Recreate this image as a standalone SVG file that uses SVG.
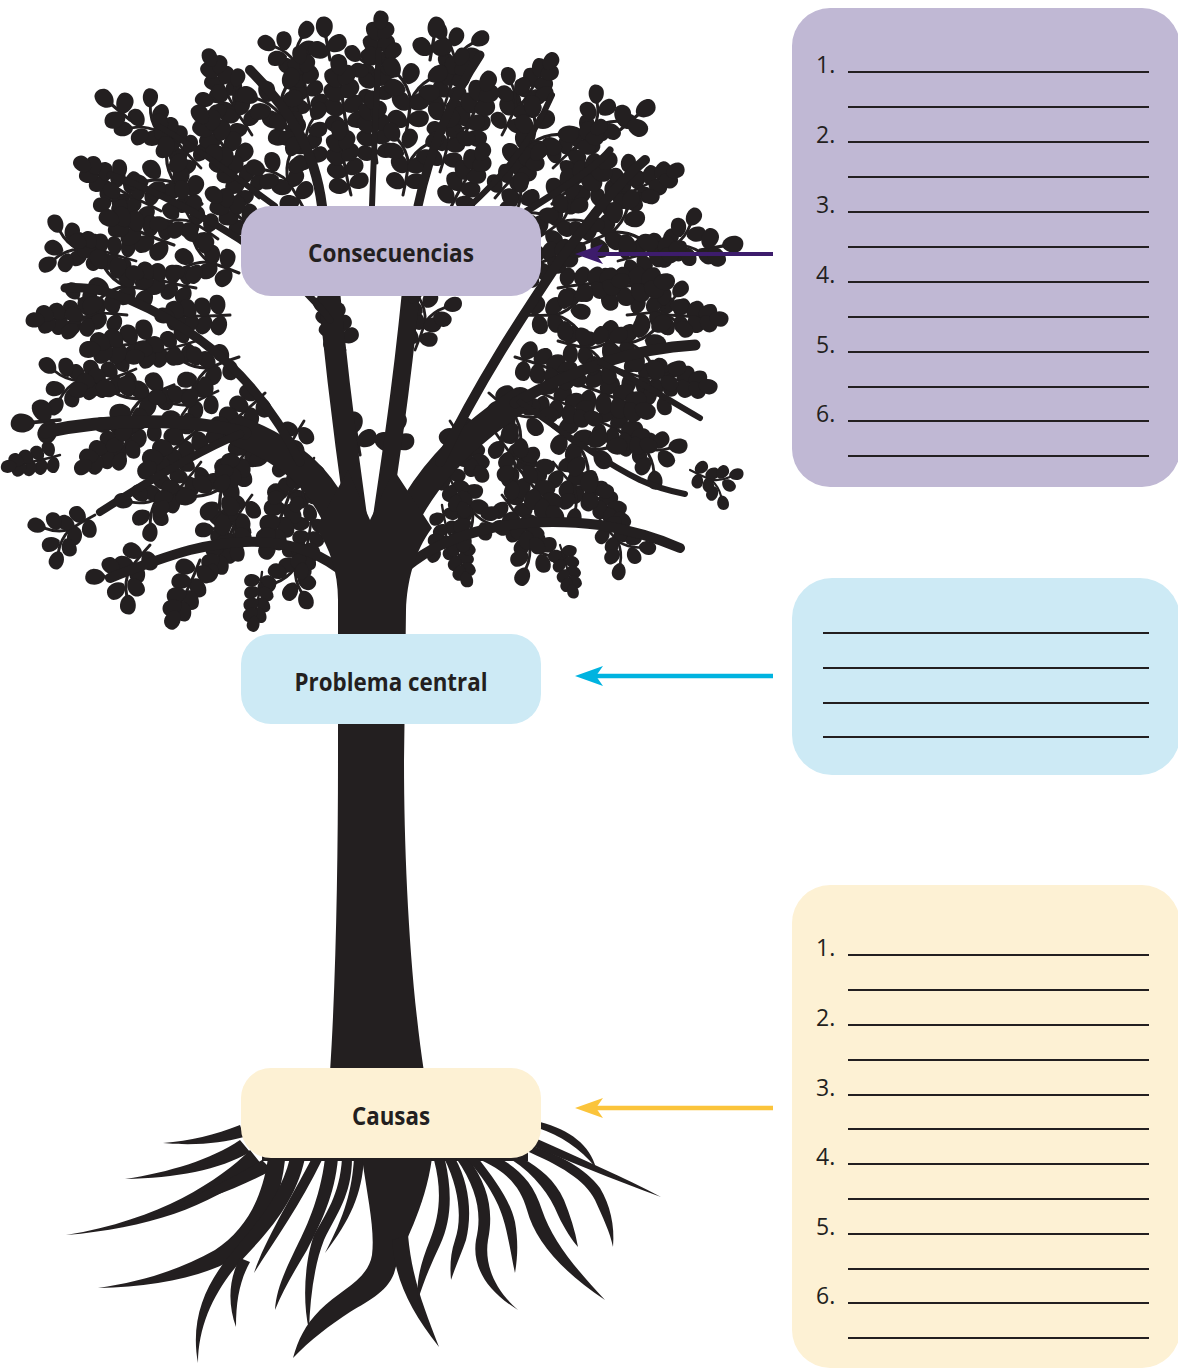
<svg xmlns="http://www.w3.org/2000/svg" xmlns:xlink="http://www.w3.org/1999/xlink" width="1178" height="1371" viewBox="0 0 1178 1371">
<style>
.ink{fill:#231f20}
.tw{fill:none;stroke:#231f20;stroke-width:4;stroke-linecap:round}
.br{fill:none;stroke:#231f20;stroke-linecap:round;stroke-linejoin:round}
.lbl{font-family:"Open Sans","Liberation Sans",sans-serif;font-weight:700;font-size:25px;fill:#231f20;text-anchor:middle}
.num{font-family:"Open Sans","Liberation Sans",sans-serif;font-size:23px;fill:#231f20}
.ln{stroke:#231f20;stroke-width:1.8}
.ar{fill:none}
</style>
<defs>
<path id="lf" d="M0,0 C1,-10 17,-14 25,-6 C30,0 25,11 16,11 C8,11 2,6 0,0Z"/>
<g id="cA" fill="#231f20">
<path class="tw" d="M0,0 Q40,-3 76,0"/>
<use href="#lf" transform="translate(10,-1) rotate(-72)"/>
<use href="#lf" transform="translate(12,1) rotate(70)"/>
<use href="#lf" transform="translate(27,-2) rotate(-55)"/>
<use href="#lf" transform="translate(29,-1) rotate(58)"/>
<use href="#lf" transform="translate(44,-2) rotate(-45)"/>
<use href="#lf" transform="translate(46,-1) rotate(45)"/>
<use href="#lf" transform="translate(60,-2) rotate(-32)"/>
<use href="#lf" transform="translate(62,-1) rotate(35)"/>
<use href="#lf" transform="translate(74,0) rotate(-4)"/>
</g>
<g id="cB" fill="#231f20">
<path class="tw" d="M0,0 Q22,1 42,0 M42,0 Q60,-5 72,-20 M42,0 Q60,5 72,20"/>
<use href="#lf" transform="translate(12,0) rotate(-70)"/>
<use href="#lf" transform="translate(16,0) rotate(68)"/>
<use href="#lf" transform="translate(31,-1) rotate(-50)"/>
<use href="#lf" transform="translate(33,1) rotate(48)"/>
<use href="#lf" transform="translate(54,-8) rotate(-85)"/>
<use href="#lf" transform="translate(54,8) rotate(85)"/>
<use href="#lf" transform="translate(62,-6) rotate(5)"/>
<use href="#lf" transform="translate(70,-19) rotate(-45)"/>
<use href="#lf" transform="translate(70,19) rotate(45)"/>
</g>
<g id="cC" fill="#231f20">
<path class="tw" d="M0,0 L30,0"/>
<use href="#lf" transform="translate(8,0) rotate(-62)"/>
<use href="#lf" transform="translate(12,0) rotate(60)"/>
<use href="#lf" transform="translate(28,0)"/>
</g>
<marker id="ahP" markerUnits="userSpaceOnUse" markerWidth="30" markerHeight="24" viewBox="0 -12 30 24" refX="7" refY="0" orient="auto"><path d="M0,-10 L28,0 L0,10 L7,0 Z" fill="#3d1c6c"/></marker>
<marker id="ahB" markerUnits="userSpaceOnUse" markerWidth="30" markerHeight="24" viewBox="0 -12 30 24" refX="7" refY="0" orient="auto"><path d="M0,-10 L28,0 L0,10 L7,0 Z" fill="#00b3e0"/></marker>
<marker id="ahY" markerUnits="userSpaceOnUse" markerWidth="30" markerHeight="24" viewBox="0 -12 30 24" refX="7" refY="0" orient="auto"><path d="M0,-10 L28,0 L0,10 L7,0 Z" fill="#fbc43b"/></marker>
</defs>
<rect width="1178" height="1371" fill="#ffffff"/>

<g id="tree">
<g id="canopy">
<use href="#cA" transform="translate(656,315) rotate(4) scale(.72)"/>
<use href="#cB" transform="translate(646,255) rotate(-19) scale(.72)"/>
<use href="#cA" transform="translate(619,199) rotate(-26) scale(.72)"/>
<use href="#cB" transform="translate(574,151) rotate(-49) scale(.72)"/>
<use href="#cA" transform="translate(516,114) rotate(-56) scale(.72)"/>
<use href="#cB" transform="translate(449,91) rotate(-79) scale(.72)"/>
<use href="#cA" transform="translate(377,83) rotate(-86) scale(.72)"/>
<use href="#cB" transform="translate(305,91) rotate(-109) scale(.72)"/>
<use href="#cA" transform="translate(238,114) rotate(-116) scale(.72)"/>
<use href="#cB" transform="translate(180,151) rotate(-139) scale(.72)"/>
<use href="#cA" transform="translate(135,199) rotate(-146) scale(.72)"/>
<use href="#cB" transform="translate(108,255) rotate(-169) scale(.72)"/>
<use href="#cA" transform="translate(98,315) rotate(176) scale(.72)"/>
<use href="#cB" transform="translate(108,375) rotate(169) scale(.72)"/>
<use href="#cA" transform="translate(135,431) rotate(146) scale(.72)"/>
<use href="#cB" transform="translate(180,479) rotate(139) scale(.72)"/>
<use href="#cA" transform="translate(238,516) rotate(116) scale(.72)"/>
<use href="#cB" transform="translate(305,539) rotate(109) scale(.72)"/>
<use href="#cA" transform="translate(449,530) rotate(71) scale(.6)"/>
<use href="#cB" transform="translate(516,516) rotate(64) scale(.72)"/>
<use href="#cA" transform="translate(574,479) rotate(41) scale(.72)"/>
<use href="#cB" transform="translate(619,431) rotate(34) scale(.72)"/>
<use href="#cA" transform="translate(646,375) rotate(11) scale(.72)"/>

<use href="#cB" transform="translate(627,315) rotate(-6) scale(.7)"/>
<use href="#cA" transform="translate(618,261) rotate(-12) scale(.7)"/>
<use href="#cB" transform="translate(593,211) rotate(-34) scale(.7)"/>
<use href="#cA" transform="translate(553,168) rotate(-41) scale(.7)"/>
<use href="#cB" transform="translate(502,135) rotate(-64) scale(.7)"/>
<use href="#cA" transform="translate(442,115) rotate(-71) scale(.7)"/>
<use href="#cB" transform="translate(377,108) rotate(-94) scale(.7)"/>
<use href="#cA" transform="translate(312,115) rotate(-101) scale(.7)"/>
<use href="#cB" transform="translate(252,135) rotate(-124) scale(.7)"/>
<use href="#cA" transform="translate(201,168) rotate(-131) scale(.7)"/>
<use href="#cB" transform="translate(161,211) rotate(-154) scale(.7)"/>
<use href="#cA" transform="translate(136,261) rotate(-161) scale(.7)"/>
<use href="#cB" transform="translate(127,315) rotate(184) scale(.7)"/>
<use href="#cA" transform="translate(136,369) rotate(161) scale(.7)"/>
<use href="#cB" transform="translate(161,419) rotate(154) scale(.7)"/>
<use href="#cA" transform="translate(201,462) rotate(131) scale(.7)"/>
<use href="#cB" transform="translate(252,495) rotate(124) scale(.7)"/>
<use href="#cA" transform="translate(312,515) rotate(101) scale(.65)"/>
<use href="#cB" transform="translate(442,505) rotate(79) scale(.6)"/>
<use href="#cA" transform="translate(502,495) rotate(56) scale(.7)"/>
<use href="#cB" transform="translate(553,462) rotate(49) scale(.7)"/>
<use href="#cA" transform="translate(593,419) rotate(26) scale(.7)"/>
<use href="#cB" transform="translate(618,369) rotate(19) scale(.7)"/>

<use href="#cB" transform="translate(159,291) rotate(-172) scale(.8)"/>
<use href="#cA" transform="translate(174,245) rotate(-157) scale(.8)"/>
<use href="#cB" transform="translate(202,204) rotate(-142) scale(.8)"/>
<use href="#cA" transform="translate(243,170) rotate(-127) scale(.8)"/>
<use href="#cB" transform="translate(293,146) rotate(-112) scale(.8)"/>
<use href="#cA" transform="translate(348,134) rotate(-97) scale(.8)"/>
<use href="#cB" transform="translate(406,134) rotate(-82) scale(.8)"/>
<use href="#cA" transform="translate(461,146) rotate(-67) scale(.8)"/>
<use href="#cB" transform="translate(511,170) rotate(-52) scale(.8)"/>
<use href="#cA" transform="translate(552,204) rotate(-37) scale(.8)"/>
<use href="#cB" transform="translate(580,245) rotate(-22) scale(.8)"/>
<use href="#cA" transform="translate(595,291) rotate(-7) scale(.8)"/>
<use href="#cB" transform="translate(595,339) rotate(7) scale(.8)"/>
<use href="#cA" transform="translate(580,385) rotate(22) scale(.8)"/>
<use href="#cB" transform="translate(552,426) rotate(37) scale(.8)"/>
<use href="#cA" transform="translate(511,460) rotate(52) scale(.8)"/>
<use href="#cB" transform="translate(461,484) rotate(67) scale(.7)"/>
<use href="#cA" transform="translate(293,484) rotate(112) scale(.8)"/>
<use href="#cB" transform="translate(243,460) rotate(127) scale(.8)"/>
<use href="#cA" transform="translate(202,426) rotate(142) scale(.8)"/>
<use href="#cB" transform="translate(174,385) rotate(157) scale(.8)"/>
<use href="#cA" transform="translate(159,339) rotate(172) scale(.8)"/>

<use href="#cA" transform="translate(196,288) rotate(-166) scale(.72)"/>
<use href="#cB" transform="translate(218,239) rotate(-146) scale(.72)"/>
<use href="#cA" transform="translate(259,198) rotate(-134) scale(.72)"/>
<use href="#cB" transform="translate(314,172) rotate(-106) scale(.72)"/>
<use href="#cA" transform="translate(377,163) rotate(-94) scale(.72)"/>
<use href="#cB" transform="translate(440,172) rotate(-74) scale(.72)"/>
<use href="#cA" transform="translate(495,198) rotate(-46) scale(.72)"/>
<use href="#cB" transform="translate(536,239) rotate(-34) scale(.72)"/>
<use href="#cA" transform="translate(558,288) rotate(-6) scale(.72)"/>
<use href="#cB" transform="translate(558,341) rotate(14) scale(.72)"/>
<use href="#cA" transform="translate(536,391) rotate(26) scale(.72)"/>
<use href="#cB" transform="translate(495,432) rotate(54) scale(.72)"/>
<use href="#cA" transform="translate(440,458) rotate(66) scale(.65)"/>
<use href="#cB" transform="translate(314,458) rotate(114) scale(.65)"/>
<use href="#cA" transform="translate(259,432) rotate(126) scale(.72)"/>
<use href="#cB" transform="translate(218,391) rotate(154) scale(.72)"/>
<use href="#cA" transform="translate(196,341) rotate(166) scale(.72)"/>

<use href="#cA" transform="translate(230,315) rotate(180) scale(.75)"/>
<use href="#cB" transform="translate(239,273) rotate(-160) scale(.75)"/>
<use href="#cA" transform="translate(265,237) rotate(-140) scale(.75)"/>
<use href="#cB" transform="translate(304,209) rotate(-120) scale(.75)"/>
<use href="#cA" transform="translate(351,195) rotate(-100) scale(.75)"/>
<use href="#cB" transform="translate(403,195) rotate(-80) scale(.75)"/>
<use href="#cA" transform="translate(450,209) rotate(-60) scale(.75)"/>
<use href="#cB" transform="translate(489,237) rotate(-40) scale(.75)"/>
<use href="#cA" transform="translate(515,273) rotate(-20) scale(.75)"/>
<use href="#cB" transform="translate(524,315) rotate(0) scale(.75)"/>
<use href="#cA" transform="translate(515,357) rotate(20) scale(.75)"/>
<use href="#cB" transform="translate(489,393) rotate(40) scale(.75)"/>
<use href="#cA" transform="translate(450,421) rotate(60) scale(.7)"/>
<use href="#cB" transform="translate(304,421) rotate(120) scale(.7)"/>
<use href="#cA" transform="translate(265,393) rotate(140) scale(.75)"/>
<use href="#cB" transform="translate(239,357) rotate(160) scale(.75)"/>

<use href="#cA" transform="translate(345,350) rotate(-110) scale(.7)"/>
<use href="#cB" transform="translate(415,350) rotate(-70) scale(.7)"/>
<use href="#cC" transform="translate(360,455) rotate(-100) scale(.8)"/>
<use href="#cC" transform="translate(392,455) rotate(-80) scale(.8)"/>
<use href="#cA" transform="translate(200,560) rotate(115) scale(.75)"/>
<use href="#cB" transform="translate(150,545) rotate(130) scale(.75)"/>
<use href="#cA" transform="translate(262,572) rotate(100) scale(.6)"/>
<use href="#cB" transform="translate(95,515) rotate(150) scale(.7)"/>
<use href="#cA" transform="translate(60,455) rotate(168) scale(.6)"/>
<use href="#cC" transform="translate(60,420) rotate(175) scale(.9)"/>
<use href="#cB" transform="translate(600,520) rotate(50) scale(.65)"/>
<use href="#cA" transform="translate(560,545) rotate(75) scale(.55)"/>
<use href="#cB" transform="translate(690,470) rotate(25) scale(.55)"/>
<use href="#cC" transform="translate(330,60) rotate(-100) scale(.8)"/>
<use href="#cC" transform="translate(430,60) rotate(-80) scale(.8)"/>
<use href="#cC" transform="translate(130,120) rotate(-140) scale(.8)"/>
<use href="#cC" transform="translate(620,130) rotate(-40) scale(.8)"/>
<use href="#cC" transform="translate(700,250) rotate(-10) scale(.8)"/>
</g>

<g id="branches" class="br">
<path d="M352,560 C335,490 300,455 240,432" stroke-width="30"/>
<path d="M245,433 C190,418 110,418 45,432" stroke-width="13"/>
<path d="M358,530 C345,440 335,360 325,250" stroke-width="22"/>
<path d="M322,206 C315,150 290,110 250,70" stroke-width="10"/>
<path d="M380,530 C395,430 405,360 415,250" stroke-width="18"/>
<path d="M418,206 C430,150 450,100 480,55" stroke-width="9"/>
<path d="M392,548 C420,480 460,440 520,400" stroke-width="26"/>
<path d="M515,403 C580,365 640,348 695,345" stroke-width="11"/>
<path d="M440,462 C480,380 520,320 560,260 C590,220 615,185 645,160" stroke-width="10"/>
<path d="M405,568 C450,530 520,515 600,525 C630,530 655,537 680,548" stroke-width="10"/>
<path d="M338,568 C300,540 250,535 190,550 C160,558 135,568 110,578" stroke-width="10"/>
<path d="M300,462 C260,380 200,330 130,300 C105,290 85,286 65,288" stroke-width="9"/>
<path d="M240,434 C200,450 150,480 100,512" stroke-width="8"/>
<path d="M330,320 C300,280 250,240 170,200 C145,188 128,180 110,175" stroke-width="7"/>
<path d="M412,300 C440,270 480,240 560,190 C585,173 600,162 610,150" stroke-width="7"/>
<path d="M372,206 C374,150 376,100 379,50" stroke-width="6"/>
<path d="M600,362 C635,378 665,398 700,418" stroke-width="6"/>
<path d="M520,402 C560,430 600,460 640,480 C655,487 670,491 685,494" stroke-width="6"/>
<path d="M275,206 C240,180 200,150 160,127" stroke-width="6"/>
<path d="M470,206 C510,170 535,135 552,95" stroke-width="6"/>
</g>

<path id="trunk" class="ink" d="M330,1072 C336,980 338,860 338,760 L338,600 C338,572 330,548 316,528 L348,470 L370,520 L394,470 L432,528 C414,552 407,582 406,610 L404,760 C404,860 410,980 424,1072 Z"/>

<g id="roots" class="ink">
<rect x="262" y="1100" width="266" height="61"/>
<path d="M250,1150 C220,1180 160,1220 66,1235 C150,1228 215,1205 262,1165 Z"/>
<path d="M240,1140 C210,1160 170,1172 125,1179 C175,1178 220,1170 250,1152 Z"/>
<path d="M240,1125 C215,1135 190,1141 163,1143 C195,1146 222,1143 244,1137 Z"/>
<path d="M262,1160 C230,1180 195,1195 167,1210 C200,1202 240,1188 272,1170 Z"/>
<path d="M268,1158 C262,1200 245,1230 215,1250 C180,1270 140,1282 98,1288 C150,1287 200,1278 232,1260 C262,1240 280,1205 285,1160 Z"/>
<path d="M290,1158 C280,1200 250,1230 230,1255 C205,1285 190,1320 198,1363 C198,1325 215,1290 240,1262 C265,1235 295,1205 305,1158 Z"/>
<path d="M240,1258 C228,1280 228,1305 236,1327 C236,1300 240,1280 250,1262 Z"/>
<path d="M312,1158 C290,1200 265,1240 254,1273 C275,1240 300,1205 322,1160 Z"/>
<path d="M325,1158 C320,1200 305,1230 295,1250 C283,1275 276,1292 275,1310 C283,1290 295,1270 307,1250 C320,1225 335,1195 338,1158 Z"/>
<path d="M342,1158 C340,1195 325,1215 314,1235 C305,1260 302,1300 309,1330 C310,1300 314,1265 324,1240 C336,1215 352,1195 352,1158 Z"/>
<path d="M354,1158 C352,1190 345,1215 325,1253 C350,1220 362,1195 364,1158 Z"/>
<path d="M362,1158 C368,1200 375,1230 372,1255 C368,1280 340,1290 320,1310 C305,1325 298,1340 293,1358 C310,1340 330,1325 350,1312 C370,1300 390,1290 395,1270 C402,1245 425,1210 432,1158 Z"/>
<path d="M392,1240 C395,1280 410,1310 439,1347 C425,1310 412,1280 408,1235 Z"/>
<path d="M434,1160 C442,1190 440,1215 430,1240 C420,1265 416,1282 418,1300 C424,1280 432,1262 440,1245 C452,1220 452,1190 445,1160 Z"/>
<path d="M444,1158 C460,1190 462,1220 455,1240 C450,1255 450,1268 451,1280 C456,1265 462,1252 466,1240 C472,1215 470,1185 455,1158 Z"/>
<path d="M456,1158 C478,1190 482,1215 476,1240 C472,1265 485,1290 518,1310 C495,1290 484,1265 488,1240 C494,1210 488,1185 468,1158 Z"/>
<path d="M466,1158 C490,1185 500,1205 505,1225 C510,1245 512,1260 515,1273 C518,1255 518,1240 515,1222 C510,1200 495,1180 478,1158 Z"/>
<path d="M476,1158 C505,1170 520,1185 527,1210 C535,1240 560,1270 605,1300 C575,1268 552,1240 542,1210 C533,1180 515,1165 490,1153 Z"/>
<path d="M512,1160 C535,1175 550,1195 558,1215 C565,1230 572,1240 578,1247 C575,1230 570,1215 564,1200 C555,1180 540,1168 522,1158 Z"/>
<path d="M524,1150 C560,1165 585,1180 595,1200 C603,1218 610,1232 613,1247 C615,1225 610,1205 600,1188 C585,1168 560,1155 530,1145 Z"/>
<path d="M530,1145 C565,1160 610,1178 661,1197 C625,1178 580,1158 535,1138 Z"/>
<path d="M538,1128 C560,1135 580,1148 596,1168 C590,1145 570,1130 540,1122 Z"/>
</g>
</g>

<g id="connectors">
<line class="ar" x1="773" y1="254" x2="596" y2="254" stroke="#3d1c6c" stroke-width="4" marker-end="url(#ahP)"/>
<line class="ar" x1="773" y1="676" x2="596" y2="676" stroke="#00b3e0" stroke-width="4.5" marker-end="url(#ahB)"/>
<line class="ar" x1="773" y1="1108" x2="596" y2="1108" stroke="#fbc43b" stroke-width="4.5" marker-end="url(#ahY)"/>
</g>

<g id="node-consecuencias">
<rect x="241" y="206" width="300" height="90" rx="30" fill="#c0b8d4"/>
<text class="lbl" x="391" y="262" textLength="166" lengthAdjust="spacingAndGlyphs">Consecuencias</text>
</g>
<g id="node-problema">
<rect x="241" y="634" width="300" height="90" rx="30" fill="#cdeaf5"/>
<text class="lbl" x="391" y="691" textLength="193" lengthAdjust="spacingAndGlyphs">Problema central</text>
</g>
<g id="node-causas">
<rect x="241" y="1068" width="300" height="90" rx="30" fill="#fdf1d4"/>
<text class="lbl" x="391" y="1125" textLength="78" lengthAdjust="spacingAndGlyphs">Causas</text>
</g>

<g id="panel-consecuencias">
<rect x="792" y="8" width="388" height="479" rx="38" fill="#c0b8d4"/>
<g class="ln">
<line x1="848" y1="72" x2="1149" y2="72"/><line x1="848" y1="107" x2="1149" y2="107"/>
<line x1="848" y1="142" x2="1149" y2="142"/><line x1="848" y1="177" x2="1149" y2="177"/>
<line x1="848" y1="212" x2="1149" y2="212"/><line x1="848" y1="247" x2="1149" y2="247"/>
<line x1="848" y1="282" x2="1149" y2="282"/><line x1="848" y1="317" x2="1149" y2="317"/>
<line x1="848" y1="352" x2="1149" y2="352"/><line x1="848" y1="387" x2="1149" y2="387"/>
<line x1="848" y1="421" x2="1149" y2="421"/><line x1="848" y1="456" x2="1149" y2="456"/>
</g>
<text class="num" x="816" y="73">1.</text>
<text class="num" x="816" y="143">2.</text>
<text class="num" x="816" y="213">3.</text>
<text class="num" x="816" y="283">4.</text>
<text class="num" x="816" y="353">5.</text>
<text class="num" x="816" y="422">6.</text>
</g>

<g id="panel-problema">
<rect x="792" y="578" width="388" height="197" rx="40" fill="#cdeaf5"/>
<g class="ln">
<line x1="823" y1="633" x2="1149" y2="633"/>
<line x1="823" y1="668" x2="1149" y2="668"/>
<line x1="823" y1="703" x2="1149" y2="703"/>
<line x1="823" y1="737" x2="1149" y2="737"/>
</g>
</g>

<g id="panel-causas">
<rect x="792" y="885" width="388" height="483" rx="38" fill="#fdf1d4"/>
<g class="ln">
<line x1="848" y1="955" x2="1149" y2="955"/><line x1="848" y1="990" x2="1149" y2="990"/>
<line x1="848" y1="1025" x2="1149" y2="1025"/><line x1="848" y1="1060" x2="1149" y2="1060"/>
<line x1="848" y1="1095" x2="1149" y2="1095"/><line x1="848" y1="1129" x2="1149" y2="1129"/>
<line x1="848" y1="1164" x2="1149" y2="1164"/><line x1="848" y1="1199" x2="1149" y2="1199"/>
<line x1="848" y1="1234" x2="1149" y2="1234"/><line x1="848" y1="1269" x2="1149" y2="1269"/>
<line x1="848" y1="1303" x2="1149" y2="1303"/><line x1="848" y1="1338" x2="1149" y2="1338"/>
</g>
<text class="num" x="816" y="956">1.</text>
<text class="num" x="816" y="1026">2.</text>
<text class="num" x="816" y="1096">3.</text>
<text class="num" x="816" y="1165">4.</text>
<text class="num" x="816" y="1235">5.</text>
<text class="num" x="816" y="1304">6.</text>
</g>
</svg>
